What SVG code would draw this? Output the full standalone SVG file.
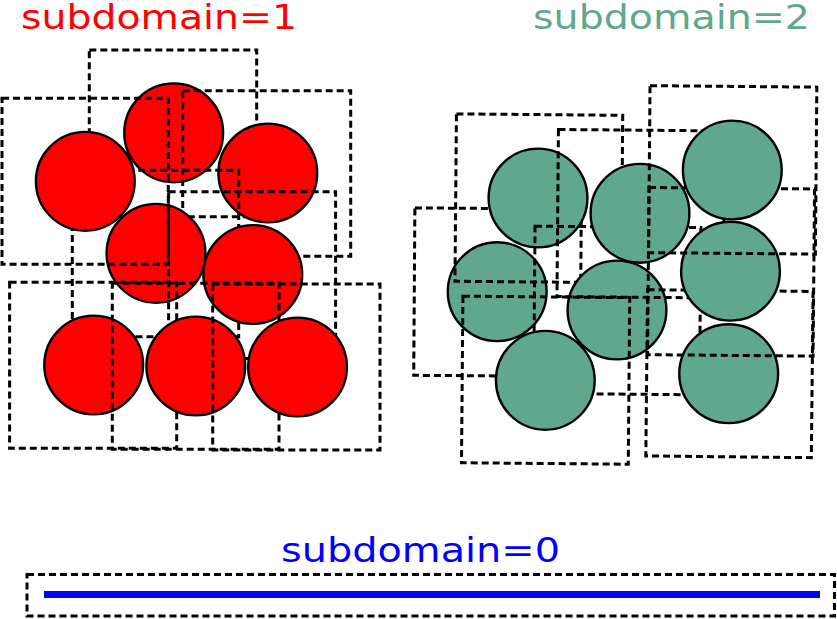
<svg xmlns="http://www.w3.org/2000/svg" width="837" height="619" viewBox="0 0 837 619">
<style>
.box{fill:none;stroke:#000;stroke-width:3;stroke-dasharray:7,4}
.red{fill:#ff0000;stroke:#000;stroke-width:2.4}
.grn{fill:#5fa88d;stroke:#000;stroke-width:2.4}
.lbl{font-family:"DejaVu Sans",sans-serif;font-size:34px}
</style>
<rect width="837" height="619" fill="#fff"/>
<g id="subdomain1">
  <g id="r2"><circle class="red" cx="173.7" cy="132.8" r="49.4"/><rect class="box" x="89.3" y="50" width="167.4" height="166.7"/></g>
  <g id="r3"><circle class="red" cx="267.8" cy="173" r="49.4"/><rect class="box" x="182.7" y="90.7" width="168" height="165.6"/></g>
  <g id="r4"><circle class="red" cx="156" cy="253.3" r="49.4"/><rect class="box" x="72.3" y="170.3" width="166.4" height="166.4"/></g>
  <g id="r1"><circle class="red" cx="85.3" cy="181.3" r="49.4"/><rect class="box" x="2" y="98.3" width="166.3" height="166"/></g>
  <g id="r5"><circle class="red" cx="252.8" cy="274.5" r="49.4"/><rect class="box" x="168.6" y="191.7" width="167" height="166.8"/></g>
  <g id="r6"><circle class="red" cx="93.7" cy="365" r="49.4"/><rect class="box" x="9.6" y="282.3" width="167.1" height="166"/></g>
  <g id="r7"><circle class="red" cx="195.8" cy="366" r="49.4"/><rect class="box" x="112.3" y="283.3" width="166.7" height="166"/></g>
  <g id="r8"><circle class="red" cx="297.5" cy="367" r="49.4"/><rect class="box" x="212.7" y="284" width="167.3" height="166"/></g>
</g>
<g id="subdomain2">
  <g id="g4"><circle class="grn" cx="497.2" cy="291.7" r="49.4"/><rect class="box" x="414.3" y="208.5" width="166.4" height="167.4" transform="rotate(0.4 497.5 292.2)"/></g>
  <g id="g1"><circle class="grn" cx="538" cy="198" r="49.4"/><rect class="box" x="455.7" y="114.6" width="166.3" height="167.4" transform="rotate(0.5 538.8 198.3)"/></g>
  <g id="g5"><circle class="grn" cx="617" cy="310" r="49.4"/><rect class="box" x="534.3" y="226.9" width="165.9" height="167.2" transform="rotate(0.5 617.2 310.5)"/></g>
  <g id="g2"><circle class="grn" cx="640" cy="213.3" r="49.4"/><rect class="box" x="557.7" y="130.2" width="166.3" height="167.1" transform="rotate(0.5 640.8 213.7)"/></g>
  <g id="g7"><circle class="grn" cx="545.3" cy="380.3" r="49.4"/><rect class="box" x="462.2" y="296.9" width="166.8" height="166.6" transform="rotate(0.5 545.6 380.2)"/></g>
  <g id="g8"><circle class="grn" cx="728.7" cy="373.7" r="49.4"/><rect class="box" x="646.7" y="290.6" width="165.5" height="166.2" transform="rotate(0.6 729.4 373.7)"/></g>
  <g id="g6"><circle class="grn" cx="730.5" cy="271.2" r="49.4"/><rect class="box" x="648.3" y="188.2" width="165.5" height="167.2" transform="rotate(0.5 731 271.8)"/></g>
  <g id="g3"><circle class="grn" cx="732.3" cy="170" r="49.4"/><rect class="box" x="649.3" y="86.4" width="166.8" height="167" transform="rotate(0.5 732.7 169.9)"/></g>
</g>
<g id="subdomain0">
  <rect class="box" x="27" y="574.5" width="807.5" height="41.5"/>
  <line x1="44" y1="594.5" x2="820" y2="594.5" stroke="#0000ff" stroke-width="7"/>
</g>
<g id="labels">
  <text class="lbl" x="21" y="29" fill="#ff0000" textLength="276" lengthAdjust="spacingAndGlyphs">subdomain=1</text>
  <text class="lbl" x="533" y="29" fill="#5fa88d" textLength="277" lengthAdjust="spacingAndGlyphs">subdomain=2</text>
  <text class="lbl" x="281" y="562" fill="#0000ff" textLength="279" lengthAdjust="spacingAndGlyphs">subdomain=0</text>
</g>
</svg>
